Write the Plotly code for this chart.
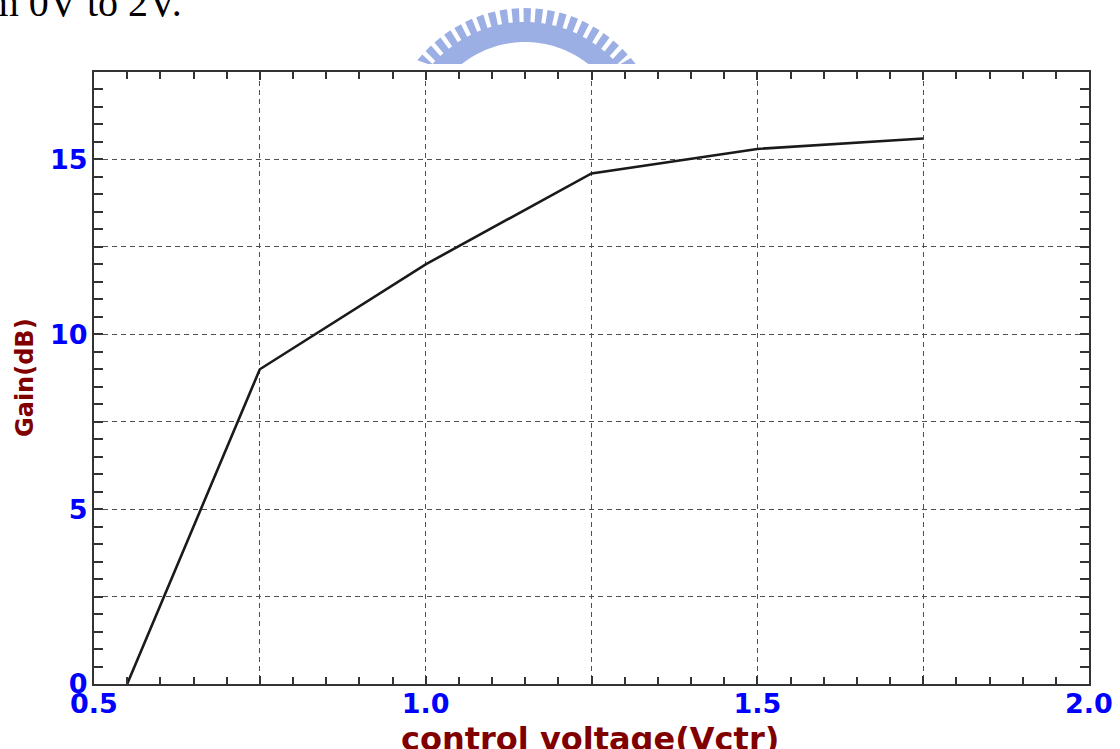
import math
import plotly.graph_objects as go

# Gain of the stage versus control voltage
vctr = [0.55, 0.75, 1.0, 1.25, 1.5, 1.75]
gain_db = [0.0, 9.0, 12.0, 14.6, 15.3, 15.6]

x_tick_vals = [0.5, 0.75, 1.0, 1.25, 1.5, 1.75, 2.0]
x_tick_text = ["0.5", "", "1.0", "", "1.5", "", "2.0"]
y_tick_vals = [0, 2.5, 5, 7.5, 10, 12.5, 15, 17.5]
y_tick_text = ["0", "", "5", "", "10", "", "15", ""]

W, H = 1120, 749
ML, MR, MT, MB = 94, 31, 72, 65
PW, PH = W - ML - MR, H - MT - MB


def px_to_paper(px, py):
    return (px - ML) / PW, (H - MB - py) / PH


TICK_FONT = dict(family="DejaVu Sans", size=27, color="#0000ff", weight="bold")
TITLE_COLOR = "#800000"
FRAME = "#333333"
GRID = "#505050"

fig = go.Figure()
fig.add_trace(go.Scatter(
    x=vctr, y=gain_db, mode="lines",
    line=dict(color="#1a1a1a", width=2.6),
    hoverinfo="x+y", showlegend=False,
))

axis_common = dict(
    showline=True, linecolor=FRAME, linewidth=2, mirror="allticks",
    ticks="inside", tickcolor=FRAME, tickwidth=2,
    showgrid=True, gridcolor=GRID, gridwidth=1, griddash="5px,4px",
    zeroline=False, tickfont=TICK_FONT, tickmode="array",
)

fig.update_xaxes(
    range=[0.5, 2.0], tickvals=x_tick_vals, ticktext=x_tick_text,
    ticklen=8, ticklabelstandoff=-5,
    minor=dict(dtick=0.05, tick0=0.5, ticks="inside", ticklen=7,
               tickcolor=FRAME, tickwidth=2, showgrid=False),
    **axis_common,
)
fig.update_yaxes(
    range=[0, 17.5], tickvals=y_tick_vals, ticktext=y_tick_text,
    ticklen=9, ticklabelstandoff=-1,
    minor=dict(dtick=0.5, tick0=0, ticks="inside", ticklen=9,
               tickcolor=FRAME, tickwidth=2, showgrid=False),
    **axis_common,
)

# axis titles
fig.add_annotation(
    text="control voltage(Vctr)", xref="paper", yref="paper",
    x=px_to_paper(590, 0)[0], y=px_to_paper(0, 718)[1],
    xanchor="center", yanchor="top", showarrow=False,
    font=dict(family="DejaVu Sans", size=32, color=TITLE_COLOR, weight="bold"),
)
fig.add_annotation(
    text="Gain(dB)", xref="paper", yref="paper",
    x=px_to_paper(25, 0)[0], y=0.5, xanchor="center", yanchor="middle",
    textangle=-90, showarrow=False,
    font=dict(family="DejaVu Sans", size=24, color=TITLE_COLOR, weight="bold"),
)

# running text line above the figure
fig.add_annotation(
    text="from 0V to 2V.", xref="paper", yref="paper",
    x=px_to_paper(184, 0)[0], y=px_to_paper(0, 27)[1],
    xanchor="right", yanchor="bottom", showarrow=False,
    font=dict(family="Liberation Serif", size=40, color="#000000"),
)

# toothed arc emblem above the frame
cx, cy = 525, 158
r_tip = (142, 150)
r_base = (128, 136)
r_in = (108, 116)
y_cut = 64


def angle_at(ry, ycut):
    s = (cy - ycut) / ry
    return math.asin(min(1.0, s))


a0 = angle_at(r_tip[1], y_cut)
a1 = math.pi - a0
n_teeth = 21
pts = []
step = (a1 - a0) / n_teeth
for i in range(n_teeth):
    t_start = a0 + i * step
    t_gap = t_start + step * 0.62
    t_end = t_start + step
    for t, (rx, ry) in ((t_start, r_base), (t_start, r_tip), (t_gap, r_tip),
                        (t_gap, r_base), (t_end, r_base)):
        pts.append((cx + rx * math.cos(t), cy - ry * math.sin(t)))
b0 = angle_at(r_in[1], y_cut)
inner = []
n_in = 40
for k in range(n_in + 1):
    t = math.pi - b0 - k * (math.pi - 2 * b0) / n_in
    inner.append((cx + r_in[0] * math.cos(t), cy - r_in[1] * math.sin(t)))
outline = pts[::-1] + inner[::-1]
outline = [(min(max(p[0], 0), W), min(p[1], y_cut)) for p in outline]
path = "M " + " L ".join(
    "{:.5f},{:.5f}".format(*px_to_paper(px, py)) for px, py in outline
) + " Z"
fig.add_shape(type="path", path=path, xref="paper", yref="paper",
              fillcolor="rgba(128,152,222,0.78)", line=dict(width=0),
              layer="below")

fig.update_layout(
    width=W, height=H,
    margin=dict(l=ML, r=MR, t=MT, b=MB, autoexpand=False),
    paper_bgcolor="white", plot_bgcolor="white",
    showlegend=False,
)

fig.write_html("out.html")
